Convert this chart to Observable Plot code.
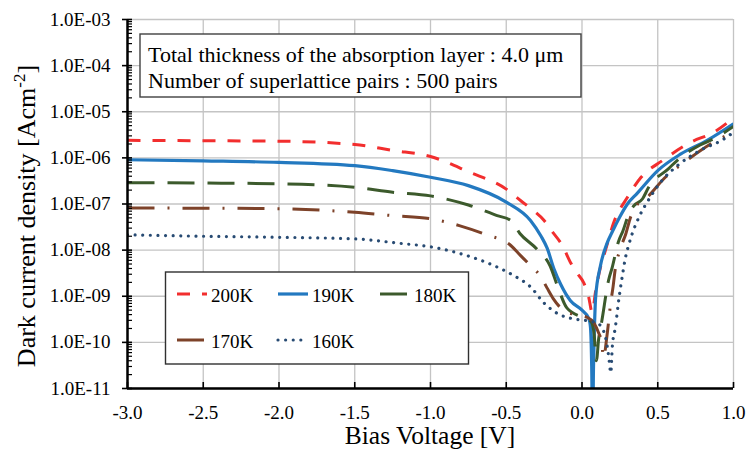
<!DOCTYPE html>
<html><head><meta charset="utf-8">
<script src="https://cdn.jsdelivr.net/npm/d3@7"></script>
<script src="https://cdn.jsdelivr.net/npm/@observablehq/plot@0.6"></script>
<style>
body{margin:0;background:#fff}
#chart{width:747px;height:450px}
#chart svg, #chart svg text, #chart svg tspan{font-family:"Liberation Serif","Times New Roman",Times,serif !important}
</style>
</head><body><div id="chart"></div>
<script>
// ---- tick values & labels ----
const xTicks = [-3, -2.5, -2, -1.5, -1, -0.5, 0, 0.5, 1];
const xTickLabels = ["-3.0", "-2.5", "-2.0", "-1.5", "-1.0", "-0.5", "0.0", "0.5", "1.0"];
const yTicks = [1e-11, 1e-10, 1e-9, 1e-8, 1e-7, 1e-6, 1e-5, 1e-4, 1e-3];
const yTickLabels = ["1.0E-11", "1.0E-10", "1.0E-09", "1.0E-08", "1.0E-07", "1.0E-06", "1.0E-05", "1.0E-04", "1.0E-03"];

// ---- series (bias voltage V, dark current density A/cm^2) ----
const v200 = [-3.0, -2.5, -2.0, -1.5, -1.25, -1.0, -0.75, -0.5, -0.4, -0.32, -0.25, -0.2, -0.13, -0.076, -0.03, 0.01, 0.043, 0.067, 0.09, 0.12, 0.155, 0.21, 0.3, 0.39, 0.53, 0.72, 0.87, 1.0];
const j200 = [2.4e-6, 2.35e-6, 2.3e-6, 1.95e-6, 1.45e-6, 1.07e-6, 5.0e-7, 2.1e-7, 1.15e-7, 7.2e-8, 4.4e-8, 2.6e-8, 1.26e-8, 5.4e-9, 3.1e-9, 2.0e-9, 1.0e-9, 4.5e-10, 1.3e-9, 4e-9, 1.0e-8, 4e-8, 1.4e-7, 3.8e-7, 8.7e-7, 2.2e-6, 3.6e-6, 7.4e-6];

const v190 = [-3.0, -2.5, -2.0, -1.5, -1.25, -1.0, -0.75, -0.5, -0.34, -0.27, -0.23, -0.186, -0.14, -0.076, 0.0, 0.045, 0.056, 0.064, 0.07, 0.076, 0.082, 0.09, 0.12, 0.165, 0.2, 0.25, 0.3, 0.364, 0.5, 0.65, 0.826, 1.0];
const j190 = [9.1e-7, 8.6e-7, 8.0e-7, 6.8e-7, 5.3e-7, 3.8e-7, 2.5e-7, 1.1e-7, 4.4e-8, 2.0e-8, 1.1e-8, 4.0e-9, 1.8e-9, 8.0e-10, 5.0e-10, 3.3e-10, 2.1e-10, 3e-11, 1e-12, 3e-11, 2e-10, 9.5e-10, 4.3e-9, 1.4e-8, 2.5e-8, 5.3e-8, 1.0e-7, 1.7e-7, 5.3e-7, 1.2e-6, 2.4e-6, 5.5e-6];

const v180 = [-3.0, -2.5, -2.0, -1.5, -1.25, -1.0, -0.75, -0.56, -0.47, -0.41, -0.3, -0.21, -0.16, -0.1, 0.0, 0.06, 0.08, 0.095, 0.11, 0.13, 0.175, 0.2, 0.24, 0.27, 0.31, 0.34, 0.4, 0.44, 0.57, 0.64, 0.78, 0.87, 1.0];
const j180 = [2.9e-7, 2.85e-7, 2.75e-7, 2.3e-7, 1.8e-7, 1.5e-7, 9.5e-8, 5.6e-8, 4.4e-8, 2.3e-8, 1.07e-8, 4.5e-9, 1.6e-9, 5.6e-10, 3.5e-10, 2.8e-10, 1.5e-10, 4e-11, 1.2e-10, 2.8e-10, 2.2e-9, 4.3e-9, 1.5e-8, 2.6e-8, 6.2e-8, 9e-8, 1.3e-7, 2.3e-7, 5.8e-7, 9.5e-7, 1.9e-6, 2.6e-6, 4.8e-6];

const v170 = [-3.0, -2.5, -2.0, -1.5, -1.25, -1.0, -0.81, -0.64, -0.47, -0.41, -0.34, -0.27, -0.23, -0.19, -0.13, -0.05, 0.034, 0.08, 0.11, 0.13, 0.142, 0.166, 0.19, 0.205, 0.22, 0.25, 0.29, 0.32, 0.36, 0.42, 0.55, 0.69, 0.87, 1.0];
const j170 = [8.2e-8, 8.1e-8, 7.9e-8, 6.6e-8, 5.6e-8, 4.8e-8, 3.4e-8, 2.2e-8, 1.26e-8, 7.9e-9, 4.6e-9, 2.6e-9, 1.5e-9, 8.9e-10, 5.2e-10, 4.0e-10, 3.5e-10, 2.6e-10, 1.6e-10, 1.0e-10, 4.7e-11, 1.5e-10, 7.4e-10, 1.6e-9, 4e-9, 1e-8, 2.3e-8, 5.1e-8, 9.3e-8, 1.3e-7, 3.8e-7, 8.7e-7, 2.2e-6, 3.6e-6];

const v160 = [-3.0, -2.5, -2.0, -1.5, -1.2, -0.98, -0.76, -0.58, -0.45, -0.34, -0.25, -0.16, -0.05, 0.034, 0.11, 0.155, 0.177, 0.19, 0.2, 0.22, 0.245, 0.265, 0.287, 0.31, 0.33, 0.375, 0.45, 0.52, 0.63, 0.78, 0.94, 1.0];
const j160 = [2.15e-8, 2.0e-8, 1.9e-8, 1.75e-8, 1.4e-8, 1.15e-8, 7.6e-9, 4.6e-9, 2.8e-9, 1.6e-9, 7.1e-10, 4.2e-10, 3.2e-10, 2.95e-10, 2.5e-10, 1.3e-10, 4.7e-11, 2.2e-11, 8e-11, 2.1e-10, 9.5e-10, 2.6e-9, 6.9e-9, 1.35e-8, 2.2e-8, 5.1e-8, 1.4e-7, 3e-7, 6.8e-7, 1.45e-6, 2.6e-6, 3.6e-6];

const seriesNames = ["200K", "190K", "180K", "170K", "160K"];
const seriesV = [v200, v190, v180, v170, v160];
const seriesJ = [j200, j190, j180, j170, j160];
const seriesColors = ["#f22e2e", "#2379c0", "#3c5a2c", "#7d4229", "#284b73"];
const seriesDash = ["13,12", null, "27,13", "27,13,2,13", "0.01,7.6"];
const seriesCap = ["butt", "butt", "butt", "butt", "round"];
const seriesWidth = [3, 3.2, 3, 3, 3.2];

const noteLines = ["Total thickness of the absorption layer : 4.0 μm", "Number of superlattice pairs : 500 pairs"];

// ---- layout ----
const W = 747, H = 450, mL = 127, mR = 14, mT = 19, mB = 62;
const frameW = W - mL - mR, frameH = H - mT - mB;
const font = "Liberation Serif, Times New Roman, Times, serif";

// minor log ticks (2..9 x 10^k)
const minorTicks = [];
for (let e = -11; e < -3; e++) for (let m = 2; m <= 9; m++) minorTicks.push(m * Math.pow(10, e));

const lineMarks = seriesNames.map((name, k) => {
  const rows = seriesV[k].map((v, i) => ({V: v, J: seriesJ[k][i]}));
  return Plot.line(rows, {
    x: "V", y: "J", stroke: seriesColors[k], strokeWidth: seriesWidth[k],
    strokeDasharray: seriesDash[k] || undefined, strokeLinecap: seriesCap[k],
    curve: "monotone-x", clip: true
  });
});

const plot = Plot.plot({
  width: W, height: H, marginLeft: mL, marginRight: mR, marginTop: mT, marginBottom: mB,
  style: {fontFamily: font, background: "white", color: "black", overflow: "visible"},
  x: {domain: [-3, 1], label: null},
  y: {type: "log", domain: [1e-11, 1e-3], label: null},
  marks: [
    Plot.gridX(xTicks, {stroke: "#c4c4c4", strokeOpacity: 1, strokeWidth: 1.3}),
    Plot.gridY(yTicks, {stroke: "#c4c4c4", strokeOpacity: 1, strokeWidth: 1.3}),
    ...lineMarks,
    Plot.ruleX([-3], {stroke: "black", strokeWidth: 2.5}),
    Plot.ruleY([1e-11], {stroke: "black", strokeWidth: 2.5}),
    Plot.tickX(xTicks, {x: d => d, insetTop: frameH - 6, stroke: "black", strokeWidth: 1.6}),
    Plot.tickY(minorTicks, {y: d => d, insetRight: frameW - 5, stroke: "black", strokeWidth: 1.2}),
    Plot.tickY(yTicks, {y: d => d, insetRight: frameW - 10, dx: -5, stroke: "black", strokeWidth: 1.6}),
    Plot.axisX(xTicks, {tickSize: 0, tickPadding: 17, fontSize: 19, fontFamily: font, label: null,
      tickFormat: d => xTickLabels[xTicks.indexOf(d)]}),
    Plot.axisY(yTicks, {tickSize: 0, tickPadding: 17, fontSize: 19, fontFamily: font, label: null,
      tickFormat: d => yTickLabels[yTicks.indexOf(d)]})
  ]
});

const svg = d3.select(plot);
const over = svg.append("g").attr("font-family", font).attr("text-anchor", "start");

// axis titles
over.append("text").attr("x", 430).attr("y", 444).attr("text-anchor", "middle")
  .attr("font-size", 25.5).attr("fill", "black").text("Bias Voltage [V]");
const yt = over.append("text").attr("transform", "translate(35,216) rotate(-90)")
  .attr("text-anchor", "middle").attr("font-size", 26).attr("fill", "black");
yt.append("tspan").text("Dark current density [Acm");
yt.append("tspan").attr("dy", -10).attr("font-size", 17).text("-2");
yt.append("tspan").attr("dy", 10).text("]");

// annotation box
const note = over.append("g");
note.append("rect").attr("x", 140).attr("y", 34).attr("width", 441).attr("height", 63)
  .attr("fill", "white").attr("stroke", "#404040").attr("stroke-width", 1.4);
noteLines.forEach((t, i) => note.append("text").attr("x", 148).attr("y", 61.5 + i * 26)
  .attr("text-anchor", "start").attr("font-size", 22).attr("fill", "black").text(t));

// legend
const leg = over.append("g");
leg.append("rect").attr("x", 165.5).attr("y", 272).attr("width", 303).attr("height", 92)
  .attr("fill", "white").attr("stroke", "#303030").attr("stroke-width", 1.4);
const legPos = [[177, 294], [278, 294], [380, 294], [177, 340], [278, 340]];
seriesNames.forEach((name, k) => {
  const [lx, ly] = legPos[k];
  leg.append("line").attr("x1", lx).attr("x2", lx + 30).attr("y1", ly).attr("y2", ly)
    .attr("stroke", seriesColors[k]).attr("stroke-width", seriesWidth[k])
    .attr("stroke-dasharray", seriesDash[k]).attr("stroke-linecap", seriesCap[k]);
  leg.append("text").attr("x", lx + 34).attr("y", ly + 7.5).attr("text-anchor", "start")
    .attr("font-size", 19).attr("fill", "black").text(name);
});

document.getElementById("chart").appendChild(plot);
</script>
</body></html>
